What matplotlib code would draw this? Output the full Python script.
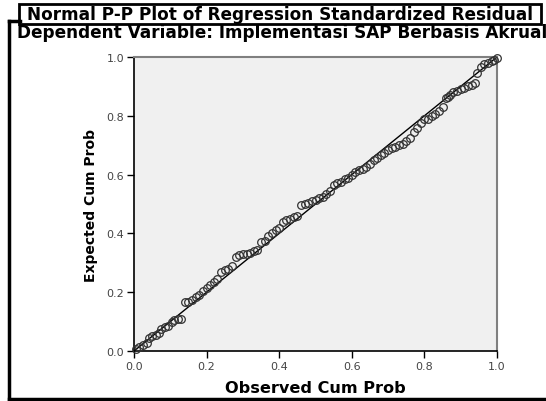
import numpy as np
import matplotlib.pyplot as plt
from matplotlib.patches import Rectangle
from matplotlib.lines import Line2D

plt.rcParams['font.family'] = ['DejaVu Sans']

title1 = 'Normal P-P Plot of Regression Standardized Residual'
title2 = 'Dependent Variable: Implementasi SAP Berbasis Akrual'
xlabel = 'Observed Cum Prob'
ylabel = 'Expected Cum Prob'
ticks = [0.0, 0.2, 0.4, 0.6, 0.8, 1.0]

# observed cum prob (x) and expected cum prob (y)
obs = [0.005, 0.015, 0.025, 0.035,
       0.04, 0.05, 0.06, 0.07,
       0.075, 0.085, 0.095, 0.105,
       0.11, 0.12, 0.13,
       0.14, 0.15, 0.16, 0.17,
       0.18, 0.19, 0.20, 0.21, 0.22,
       0.23, 0.24, 0.25, 0.26,
       0.27, 0.28, 0.29, 0.30, 0.31, 0.32, 0.33, 0.34,
       0.35, 0.36, 0.37, 0.38, 0.39, 0.40,
       0.41, 0.42, 0.43, 0.44, 0.45,
       0.46, 0.47, 0.48, 0.49, 0.50,
       0.51, 0.52, 0.53, 0.54, 0.55, 0.56, 0.57, 0.58, 0.59,
       0.60, 0.61, 0.62, 0.63, 0.64, 0.65,
       0.66, 0.67, 0.68, 0.69,
       0.70, 0.71, 0.72, 0.73, 0.74, 0.75, 0.76,
       0.77, 0.78, 0.79,
       0.80, 0.81, 0.82, 0.83, 0.84, 0.85,
       0.86, 0.865,
       0.87, 0.88, 0.89, 0.90, 0.91, 0.92, 0.93, 0.94,
       0.945,
       0.955, 0.965, 0.975, 0.985, 0.993, 1.0]
exp = [0.008, 0.015, 0.02, 0.028,
       0.045, 0.05, 0.055, 0.06,
       0.075, 0.08, 0.085, 0.10,
       0.105, 0.11, 0.11,
       0.165, 0.165, 0.175, 0.185,
       0.19, 0.205, 0.215, 0.225, 0.235,
       0.245, 0.27, 0.275, 0.28,
       0.29, 0.32, 0.325, 0.33, 0.33, 0.335, 0.34, 0.345,
       0.37, 0.375, 0.39, 0.40, 0.41, 0.42,
       0.44, 0.445, 0.45, 0.455, 0.46,
       0.495, 0.50, 0.505, 0.51, 0.515,
       0.52, 0.525, 0.535, 0.545, 0.565, 0.57, 0.575, 0.585, 0.59,
       0.60, 0.61, 0.615, 0.62, 0.625, 0.635,
       0.65, 0.655, 0.665, 0.675,
       0.685, 0.69, 0.695, 0.70, 0.705, 0.715, 0.725,
       0.745, 0.76, 0.775,
       0.79, 0.79, 0.80, 0.805, 0.815, 0.83,
       0.86, 0.865,
       0.87, 0.88, 0.885, 0.89, 0.895, 0.90, 0.905, 0.91,
       0.945,
       0.965, 0.975, 0.98, 0.985, 0.99, 0.995]

fig = plt.figure(figsize=(5.46, 4.02), dpi=100)
ax = fig.add_axes([134/546, 50/402, 363/546, 294/402])
ax.set_facecolor('#f0f0f0')

ax.plot([0, 1], [0, 1], color='black', lw=1.0, zorder=2)
ax.plot(obs, exp, 'o', ms=5.5, mfc='none', mec='#333333', mew=0.9, zorder=3, clip_on=False)

ax.set_xlim(0, 1)
ax.set_ylim(0, 1)
ax.set_xticks(ticks)
ax.set_yticks(ticks)
ax.set_xticklabels(['%.1f' % t for t in ticks])
ax.set_yticklabels(['%.1f' % t for t in ticks])
ax.tick_params(direction='out', length=5, width=1, color='black', labelsize=8, labelcolor='#444444', pad=2)

for s in ['left', 'bottom']:
    ax.spines[s].set_color('black')
    ax.spines[s].set_linewidth(1.2)
for s in ['top', 'right']:
    ax.spines[s].set_color('#808080')
    ax.spines[s].set_linewidth(1.5)

ax.set_xlabel(xlabel, fontsize=11.6, fontweight='bold', labelpad=7)
ax.set_ylabel(ylabel, fontsize=10, fontweight='bold', labelpad=6)

# outer frame
W, H = 546, 402
def fx(p): return p / W
def fy(p): return 1 - p / H
frame = dict(color='black', lw=2.5, transform=fig.transFigure)
fig.add_artist(Line2D([fx(9), fx(9)], [fy(22), fy(400)], **frame))
fig.add_artist(Line2D([fx(9), fx(546)], [fy(400), fy(400)], **frame))
fig.add_artist(Line2D([fx(9), fx(20)], [fy(22), fy(22)], **frame))

fig.text(fx(17), fy(32.5), title2, fontsize=12.2, fontweight='bold', ha='left', va='center')
fig.add_artist(Rectangle((fx(19), fy(25)), fx(541) - fx(19), fy(5) - fy(25),
                         transform=fig.transFigure, facecolor='white',
                         edgecolor='black', lw=2))
fig.text(fx(280), fy(15), title1, fontsize=12.2, fontweight='bold', ha='center', va='center')

fig.savefig('out.png', dpi=100)
